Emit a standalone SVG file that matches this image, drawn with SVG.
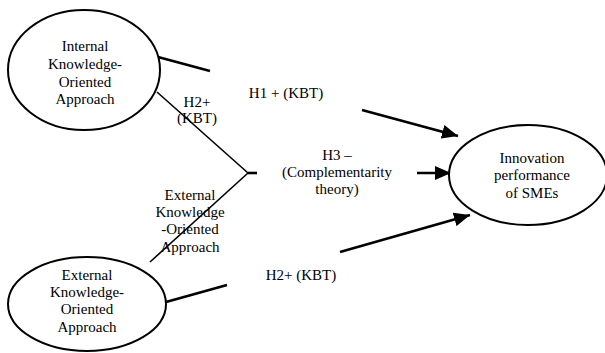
<svg xmlns="http://www.w3.org/2000/svg" width="605" height="353" viewBox="0 0 605 353">
<style>
.node ellipse{fill:#fff;stroke:#000;stroke-width:2}
text{font-family:"Liberation Serif",serif;font-size:15px;fill:#000;text-anchor:middle}
.thick{stroke:#000;stroke-width:2.6;fill:none}
.thin{stroke:#000;stroke-width:1.6;fill:none}
</style>
<defs>
<marker id="ah" markerUnits="userSpaceOnUse" markerWidth="17" markerHeight="14" refX="16" refY="7" orient="auto">
<path d="M0,0 L16,7 L0,14 Z" fill="#000"/>
</marker>
</defs>
<rect width="605" height="353" fill="#fff"/>
<g id="connectors">
<line class="thick" x1="158" y1="57" x2="210" y2="71"/>
<line class="thin" x1="157" y1="92" x2="248" y2="173"/>
<line class="thin" x1="150" y1="262" x2="248" y2="173"/>
<line class="thick" x1="248" y1="173" x2="257" y2="173"/>
<line class="thick" x1="166" y1="302" x2="227" y2="285"/>
<line class="thick" x1="362" y1="110" x2="458" y2="136" marker-end="url(#ah)"/>
<line class="thick" x1="417" y1="173" x2="451" y2="173" marker-end="url(#ah)"/>
<line class="thick" x1="340" y1="252" x2="470" y2="215" marker-end="url(#ah)"/>
</g>
<g id="labels">
<text x="286" y="98">H1 + (KBT)</text>
<text x="197" y="107">H2+</text>
<text x="197" y="123">(KBT)</text>
<text x="337" y="160">H3 –</text>
<text x="337" y="177">(Complementarity</text>
<text x="337" y="194">theory)</text>
<text x="190" y="200">External</text>
<text x="190" y="217">Knowledge</text>
<text x="190" y="234">-Oriented</text>
<text x="190" y="252">Approach</text>
<text x="301" y="280">H2+ (KBT)</text>
</g>
<g id="internal" class="node">
<ellipse cx="84" cy="70" rx="76" ry="60"/>
<text x="85" y="51">Internal</text>
<text x="85" y="69">Knowledge-</text>
<text x="85" y="87">Oriented</text>
<text x="85" y="104">Approach</text>
</g>
<g id="external" class="node">
<ellipse cx="87" cy="304" rx="79" ry="47"/>
<text x="87" y="280">External</text>
<text x="87" y="297">Knowledge-</text>
<text x="87" y="314">Oriented</text>
<text x="87" y="332">Approach</text>
</g>
<g id="innovation" class="node">
<ellipse cx="528" cy="175" rx="79" ry="50"/>
<text x="532" y="163">Innovation</text>
<text x="532" y="180">performance</text>
<text x="532" y="198">of SMEs</text>
</g>
</svg>
